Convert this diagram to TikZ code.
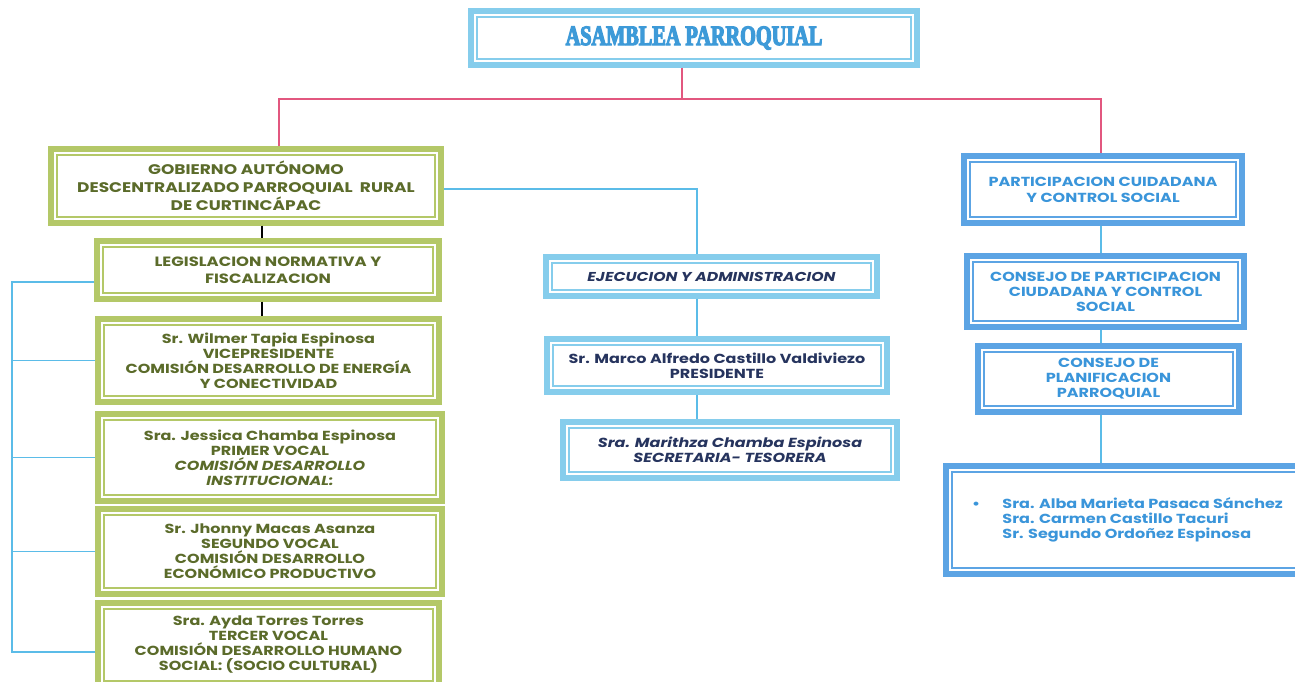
\documentclass[tikz,border=0pt]{standalone}
\usepackage{fontspec}
\usetikzlibrary{calc}
\newfontfamily\gothic[FakeStretch=1.22]{Poppins}
\newfontfamily\titlefont[FakeStretch=0.72, FakeBold=4]{Liberation Serif}
\definecolor{cyanframe}{RGB}{134,205,236}
\definecolor{blueframe}{RGB}{92,164,228}
\definecolor{greenframe}{RGB}{180,200,104}
\definecolor{greentext}{RGB}{91,107,42}
\definecolor{navytext}{RGB}{38,52,94}
\definecolor{bluetext}{RGB}{58,149,218}
\definecolor{titleblue}{RGB}{61,154,216}
\definecolor{pinkwire}{RGB}{226,87,127}
\definecolor{cyanwire}{RGB}{91,188,232}
\newcommand{\px}{0.03cm}
\tikzset{
  frame/.style={draw=#1, line width=4.4pt, fill=white, inner sep=2pt, align=center,
    path picture={\draw[#1, line width=1.1pt]
      ([shift={(5.2pt,5.2pt)}]path picture bounding box.south west) rectangle
      ([shift={(-5.2pt,-5.2pt)}]path picture bounding box.north east);}},
  box/.style 2 args={minimum width=#1*\px, minimum height=#2*\px},
  greenbox/.style={frame=greenframe, text=greentext, font=\gothic\bfseries\fontsize{11.2}{12.8}\selectfont},
  cyanbox/.style={frame=cyanframe, text=navytext, font=\gothic\bfseries\fontsize{11.2}{12.8}\selectfont},
  bluebox/.style={frame=blueframe, text=bluetext, font=\gothic\bfseries\fontsize{11.2}{12.8}\selectfont},
  wire/.style={line width=1.1pt},
}

\begin{document}
\begin{tikzpicture}[x=\px, y=-\px]
\useasboundingbox (0,0) rectangle (1295,682);

%%%%%%%%%%%%%%%%%%%%%%%%%%%%%%%%%%%%%%%%%%%%%%%%%%%%%%%%%%%%%% Setup
\coordinate (bus)  at (682, 99);
\coordinate (lft)  at (262, 0);
\coordinate (mid)  at (697, 0);
\coordinate (rgt)  at (1101, 0);
\coordinate (rail) at (12, 0);

%%%%%%%%%%%%%%%%%%%%%%%%%%%%%%%%%%%%%%%%%%%%%%%%%%%%%%%%%%%%%% Top
\node[frame=cyanframe, box={446}{54}, text=titleblue,
      font=\titlefont\bfseries\fontsize{24}{26}\selectfont] (asam) at (694, 38) {ASAMBLEA PARROQUIAL};

%%%%%%%%%%%%%%%%%%%%%%%%%%%%%%%%%%%%%%%%%%%%%%%%%%%%%%%%%%%%%% Left column
\node[greenbox, box={390}{74}, font=\gothic\bfseries\fontsize{11.9}{15.3}\selectfont] (gad) at (246, 186)
  {GOBIERNO AUTÓNOMO\\DESCENTRALIZADO PARROQUIAL\ \ RURAL\\DE CURTINCÁPAC};
\node[greenbox, box={342}{58}, font=\gothic\bfseries\fontsize{11.5}{14.5}\selectfont] (leg) at (268, 270)
  {LEGISLACION NORMATIVA Y\\FISCALIZACION};
\node[greenbox, box={341}{83}] (wil) at (268.5, 360.5)
  {Sr. Wilmer Tapia Espinosa\\VICEPRESIDENTE\\COMISIÓN DESARROLLO DE ENERGÍA\\Y CONECTIVIDAD};
\node[greenbox, box={344}{87}] (jes) at (270, 457.5)
  {Sra. Jessica Chamba Espinosa\\PRIMER VOCAL\\\textit{COMISIÓN DESARROLLO}\\\textit{INSTITUCIONAL:}};
\node[greenbox, box={344}{85}] (jho) at (270, 551.5)
  {Sr. Jhonny Macas Asanza\\SEGUNDO VOCAL\\COMISIÓN DESARROLLO\\ECONÓMICO PRODUCTIVO};
\node[greenbox, box={341}{84}] (ayd) at (268.5, 645)
  {Sra. Ayda Torres Torres\\TERCER VOCAL\\COMISIÓN DESARROLLO HUMANO\\SOCIAL: (SOCIO CULTURAL)};

%%%%%%%%%%%%%%%%%%%%%%%%%%%%%%%%%%%%%%%%%%%%%%%%%%%%%%%%%%%%%% Middle column
\node[cyanbox, box={331}{39}, font=\gothic\bfseries\itshape\fontsize{11}{12.8}\selectfont] (eje) at (711.5, 276.5)
  {EJECUCION Y ADMINISTRACION};
\node[cyanbox, box={340}{53}] (mar) at (717, 365.5) {Sr. Marco Alfredo Castillo Valdiviezo\\PRESIDENTE};
\node[cyanbox, box={334}{56}, font=\gothic\bfseries\itshape\fontsize{11.2}{13}\selectfont] (sec) at (730, 450)
  {Sra. Marithza Chamba Espinosa\\SECRETARIA- TESORERA};

%%%%%%%%%%%%%%%%%%%%%%%%%%%%%%%%%%%%%%%%%%%%%%%%%%%%%%%%%%%%%% Right column
\node[bluebox, box={278}{67}, font=\gothic\bfseries\fontsize{11.2}{13.6}\selectfont] (pcs) at (1103, 189.5)
  {PARTICIPACION CUIDADANA\\Y CONTROL SOCIAL};
\node[bluebox, box={277}{71}] (cpc) at (1105.5, 291.5) {CONSEJO DE PARTICIPACION\\CIUDADANA Y CONTROL\\SOCIAL};
\node[bluebox, box={261}{66}] (cpl) at (1108.5, 379) {CONSEJO DE\\PLANIFICACION\\PARROQUIAL};
\node[bluebox, box={363}{108}] (mem) at (1127.5, 520)
  {\begin{tabular}{@{}l@{\hspace{19pt}}l@{}}
   \textbullet & Sra. Alba Marieta Pasaca Sánchez\\
               & Sra. Carmen Castillo Tacuri\\
               & Sr. Segundo Ordoñez Espinosa
   \end{tabular}};

%%%%%%%%%%%%%%%%%%%%%%%%%%%%%%%%%%%%%%%%%%%%%%%%%%%%%%%%%%%%%% Connectors
\draw[wire, pinkwire] (asam.south -| bus) -- (bus);
\draw[wire, pinkwire] ($(gad.north)+(33,0)$) |- (bus) -| (rgt |- pcs.north);

\draw[wire, black] (lft |- gad.south) -- (lft |- leg.north);
\draw[wire, black] (lft |- leg.south) -- (lft |- wil.north);

\draw[wire, cyanwire] ($(leg.west)+(0,12)$) -| ($(rail |- ayd.west)+(0,7)$) -- ($(ayd.west)+(0,7)$);
\foreach \n in {wil, jes, jho}
  \draw[wire, cyanwire] (rail |- \n.west) -- (\n.west);

\draw[wire, cyanwire] ($(gad.east)+(0,3)$) -| (mid |- eje.north);
\draw[wire, cyanwire] (mid |- eje.south) -- (mid |- mar.north);
\draw[wire, cyanwire] (mid |- mar.south) -- (mid |- sec.north);

\draw[wire, cyanwire] (rgt |- pcs.south) -- (rgt |- cpc.north);
\draw[wire, cyanwire] (rgt |- cpc.south) -- (rgt |- cpl.north);
\draw[wire, cyanwire] (rgt |- cpl.south) -- (rgt |- mem.north);

\end{tikzpicture}
\end{document}
